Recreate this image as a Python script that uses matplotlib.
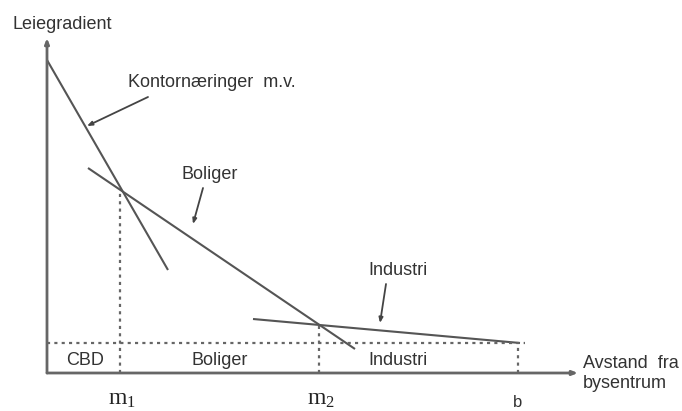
import matplotlib
matplotlib.use("Agg")
import matplotlib.pyplot as plt

# ---- data (distance units on x, rent units on y) ----
kontor_x = [0.0, 2.42]
kontor_y = [6.26, 2.06]
boliger_x = [0.82, 6.16]
boliger_y = [4.10, 0.48]
industri_x = [4.12, 9.46]
industri_y = [1.08, 0.60]

m1 = 1.45          # border CBD / Boliger
m1_rent = 3.66
m2 = 5.44          # border Boliger / Industri
m2_rent = 0.98
b = 9.42           # city edge
floor_rent = 0.60  # agricultural rent level
floor_end = 9.56

zone_names = ["CBD", "Boliger", "Industri"]
zone_centers = [0.76, 3.46, 7.02]
tick_labels = [r"$\mathregular{m_1}$", r"$\mathregular{m_2}$", "b"]
tick_pos = [1.45, 5.44, 9.42]

x_max = 10.62
y_max = 6.70

# ---- figure ----
fig = plt.figure(figsize=(6.82, 4.11), dpi=100)
ax = fig.add_axes([0, 0, 1, 1])
ax.set_xlim(-0.94, 12.70)
ax.set_ylim(-0.76, 7.46)
ax.axis("off")

txt = "#333333"
lc = "#555555"
font = ["Liberation Sans", "DejaVu Sans"]
fs = 13

# axes with arrows
ax.annotate("", xy=(x_max, 0), xytext=(0, 0),
            arrowprops=dict(arrowstyle="-|>,head_length=0.3,head_width=0.12",
                            color="#666666", lw=2, shrinkA=0, shrinkB=0))
ax.annotate("", xy=(0, y_max), xytext=(0, 0),
            arrowprops=dict(arrowstyle="-|>,head_length=0.3,head_width=0.12",
                            color="#666666", lw=2, shrinkA=0, shrinkB=0))

# rent gradients
ax.plot(kontor_x, kontor_y, color=lc, lw=1.5, solid_capstyle="butt")
ax.plot(boliger_x, boliger_y, color=lc, lw=1.5, solid_capstyle="butt")
ax.plot(industri_x, industri_y, color=lc, lw=1.5, solid_capstyle="butt")

# dotted guides
dot = dict(color="#666666", lw=1.6, linestyle=(0, (1.4, 1.9)))
ax.plot([0, floor_end], [floor_rent, floor_rent], **dot)
ax.plot([m1, m1], [0, m1_rent], **dot)
ax.plot([m2, m2], [0, m2_rent], **dot)
ax.plot([b, b], [0, floor_rent], **dot)

# curve labels with arrows
arr = dict(arrowstyle="-|>,head_length=0.3,head_width=0.12", color="#444444",
           lw=1.3, shrinkA=0, shrinkB=0)
ax.text(1.62, 5.82, "Kontornæringer  m.v.", fontsize=fs, family=font,
        color=txt, ha="left", va="center")
ax.annotate("", xy=(0.80, 4.94), xytext=(2.02, 5.52), arrowprops=arr)

ax.text(3.26, 3.98, "Boliger", fontsize=fs, family=font, color=txt,
        ha="center", va="center")
ax.annotate("", xy=(2.92, 2.98), xytext=(3.12, 3.70), arrowprops=arr)

ax.text(7.02, 2.06, "Industri", fontsize=fs, family=font, color=txt,
        ha="center", va="center")
ax.annotate("", xy=(6.66, 1.00), xytext=(6.78, 1.78), arrowprops=arr)

# zone labels
for name, xc in zip(zone_names, zone_centers):
    ax.text(xc, 0.26, name, fontsize=fs, family=font, color=txt,
            ha="center", va="center")

# axis titles
ax.text(0.30, 6.98, "Leiegradient", fontsize=fs, family=font, color=txt,
        ha="center", va="center")
ax.text(10.72, -0.01, "Avstand  fra\nbysentrum", fontsize=fs, family=font,
        color=txt, ha="left", va="center", linespacing=1.3)

# tick labels below axis
for lab, xp in zip(tick_labels[:2], tick_pos[:2]):
    ax.text(xp + 0.04, -0.52, lab, fontsize=17, family="Liberation Serif",
            color="#222222", ha="center", va="center")
ax.text(tick_pos[2], -0.58, tick_labels[2], fontsize=12, family=font,
        color=txt, ha="center", va="center")

fig.savefig("out.png", dpi=100)
